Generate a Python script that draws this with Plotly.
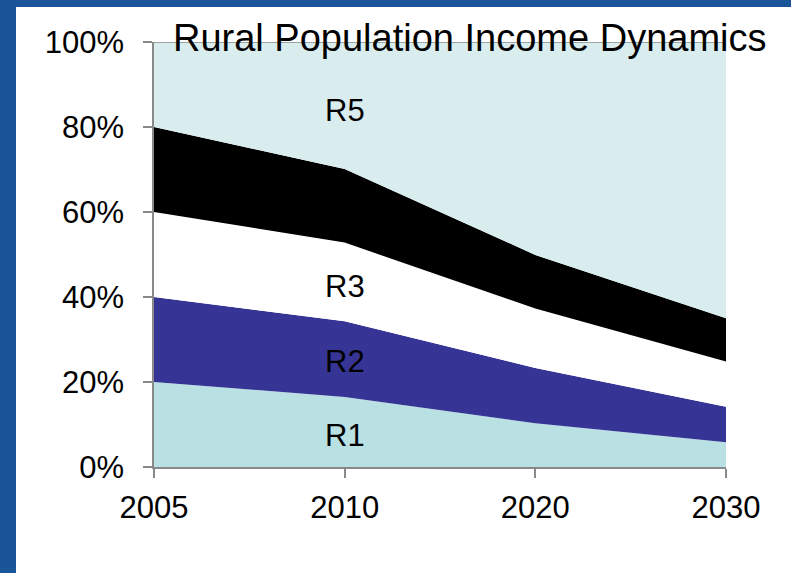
import plotly.graph_objects as go

# Survey years and each income group's share of the rural population (%)
years = ["2005", "2010", "2020", "2030"]
r1 = [20.0, 16.5, 10.3, 5.8]
r2 = [20.0, 17.8, 13.0, 8.4]
r3 = [20.0, 18.5, 14.0, 10.6]
r4 = [20.0, 17.3, 12.6, 10.2]
r5 = [20.0, 29.9, 50.1, 65.0]

group_names = ["R1", "R2", "R3", "R4", "R5"]
group_values = [r1, r2, r3, r4, r5]
group_colors = ["#b9e0e3", "#363596", "#ffffff", "#000000", "#d9edef"]

# Label positions (% of population) for the named bands, placed over 2010
label_year = "2010"
label_names = ["R1", "R2", "R3", "R5"]
label_levels = [7.5, 24.9, 42.4, 84.0]

y_ticks = [0, 20, 40, 60, 80, 100]
y_tick_text = [f"{v}%" for v in y_ticks]

W, H = 791, 573
L, R, T, B = 154, 65, 42, 106
pw, ph = W - L - R, H - T - B

FONT = "Liberation Sans, Arial, sans-serif"
AXIS_GREY = "#898989"
FRAME_BLUE = "#1a5499"
TEXT_SIZE = 31

fig = go.Figure()
for name, vals, col in zip(group_names, group_values, group_colors):
    top = name == "R5"
    fig.add_trace(go.Scatter(
        x=years, y=vals, name=name, mode="lines",
        stackgroup="income", fillcolor=col,
        line=dict(width=1.5 if top else 0, color=AXIS_GREY if top else col),
        showlegend=False,
    ))

# category axes place annotations by category index
label_x = years.index(label_year)
annotations = [
    dict(x=label_x, y=lvl, xref="x", yref="y", text=txt, showarrow=False,
         font=dict(family=FONT, size=TEXT_SIZE, color="#000000"),
         xanchor="center", yanchor="middle")
    for txt, lvl in zip(label_names, label_levels)
]
annotations.append(dict(
    x=(470 - L) / pw, y=(H - B - 38) / ph, xref="paper", yref="paper",
    text="Rural Population Income Dynamics", showarrow=False,
    font=dict(family=FONT, size=38, color="#000000"),
    xanchor="center", yanchor="middle",
))


def px_x(v):
    return (v - L) / pw


def px_y(v):
    return (H - B - v) / ph


# Blue frame along the left and top edges of the page
shapes = [
    dict(type="rect", xref="paper", yref="paper", layer="above",
         x0=px_x(0), x1=px_x(16), y0=px_y(H), y1=px_y(0),
         fillcolor=FRAME_BLUE, line=dict(width=0)),
    dict(type="rect", xref="paper", yref="paper", layer="above",
         x0=px_x(0), x1=px_x(W), y0=px_y(7), y1=px_y(0),
         fillcolor=FRAME_BLUE, line=dict(width=0)),
]

fig.update_layout(
    width=W, height=H,
    margin=dict(l=L, r=R, t=T, b=B, pad=0),
    paper_bgcolor="#ffffff", plot_bgcolor="#ffffff",
    font=dict(family=FONT, size=TEXT_SIZE, color="#000000"),
    annotations=annotations, shapes=shapes,
    xaxis=dict(
        type="category", range=[0, 3], showgrid=False, zeroline=False,
        showline=True, linecolor=AXIS_GREY, linewidth=1.5,
        ticks="outside", ticklen=9, tickcolor=AXIS_GREY, tickwidth=1.5,
        tickfont=dict(family=FONT, size=TEXT_SIZE, color="#000000"),
        ticklabelstandoff=3,
    ),
    yaxis=dict(
        range=[0, 100], tickmode="array", tickvals=y_ticks, ticktext=y_tick_text,
        showgrid=False, zeroline=False,
        showline=True, linecolor=AXIS_GREY, linewidth=1.5,
        ticks="outside", ticklen=9, tickcolor=AXIS_GREY, tickwidth=1.5,
        tickfont=dict(family=FONT, size=TEXT_SIZE, color="#000000"),
        ticklabelstandoff=13,
    ),
)

fig.write_html("out.html")
